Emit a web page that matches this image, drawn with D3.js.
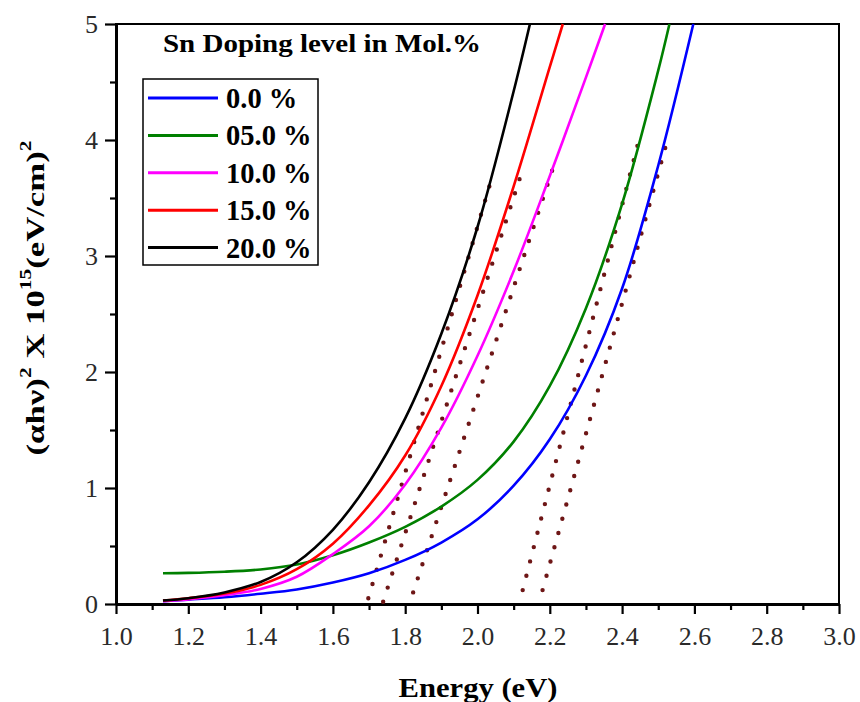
<!DOCTYPE html>
<html>
<head>
<meta charset="utf-8">
<script src="https://cdn.jsdelivr.net/npm/d3@7"></script>
<style>
body { margin: 0; background: #fff; }
text { font-family: "Liberation Serif", "Times New Roman", serif; }
</style>
</head>
<body>
<div id="chart-area"></div>
<script>
// legend labels and colours, one per doping level
const labels = ['0.0 %', '05.0 %', '10.0 %', '15.0 %', '20.0 %'];
const colors = ['#0000ff', '#008000', '#ff00ff', '#ff0000', '#000000'];

// [energy (eV), (ahv)^2 x 1e15]
const sn00 = [[1.13, 0.025], [1.2, 0.038], [1.3, 0.058], [1.4, 0.088], [1.5, 0.125], [1.6, 0.185], [1.7, 0.265],
    [1.8, 0.38], [1.9, 0.53], [2.0, 0.73], [2.1, 1.02], [2.2, 1.42], [2.3, 1.97], [2.4, 2.72], [2.5, 3.78],
    [2.597, 5.0]];
const sn05 = [[1.13, 0.265], [1.2, 0.268], [1.3, 0.278], [1.4, 0.298], [1.5, 0.34], [1.6, 0.42], [1.7, 0.53],
    [1.8, 0.665], [1.9, 0.84], [2.0, 1.07], [2.1, 1.4], [2.2, 1.88], [2.3, 2.55], [2.4, 3.45], [2.5, 4.6],
    [2.531, 5.0]];
const sn10 = [[1.13, 0.025], [1.2, 0.04], [1.3, 0.075], [1.4, 0.13], [1.5, 0.235], [1.6, 0.43], [1.7, 0.67],
    [1.8, 1.03], [1.9, 1.52], [2.0, 2.14], [2.1, 2.87], [2.2, 3.69], [2.3, 4.54], [2.353, 5.0]];
const sn15 = [[1.13, 0.03], [1.2, 0.05], [1.3, 0.09], [1.4, 0.165], [1.5, 0.3], [1.6, 0.52], [1.7, 0.85],
    [1.8, 1.28], [1.9, 1.88], [2.0, 2.66], [2.1, 3.6], [2.2, 4.63], [2.236, 5.0]];
const sn20 = [[1.13, 0.03], [1.2, 0.05], [1.3, 0.1], [1.4, 0.19], [1.5, 0.36], [1.6, 0.64], [1.7, 1.05],
    [1.8, 1.6], [1.9, 2.33], [2.0, 3.25], [2.1, 4.42], [2.145, 5.0]];

// dotted extrapolation lines (Tauc fits), start and end point
const tangents = [
    [[1.698, 0.05], [2.044, 3.72]],
    [[1.739, 0.02], [2.118, 3.68]],
    [[1.822, 0.10], [2.21, 3.77]],
    [[2.125, 0.12], [2.449, 4.03]],
    [[2.18, 0.12], [2.528, 4.03]]
];

const xMajor = [1.0, 1.2, 1.4, 1.6, 1.8, 2.0, 2.2, 2.4, 2.6, 2.8, 3.0];
const xMinor = [1.1, 1.3, 1.5, 1.7, 1.9, 2.1, 2.3, 2.5, 2.7, 2.9];
const yMajor = [0, 1, 2, 3, 4, 5];
const yMinor = [0.5, 1.5, 2.5, 3.5, 4.5];

const series = [sn00, sn05, sn10, sn15, sn20];

const svg = d3.select("#chart-area").append("svg")
    .attr("width", 860)
    .attr("height", 702);

drawChart(svg);

function drawChart(svg) {
    const margin = { top: 24, right: 21, bottom: 98, left: 116 };
    const width = 860 - margin.left - margin.right,
        height = 702 - margin.top - margin.bottom;

    const g = svg.append("g")
        .attr("transform", `translate(${margin.left}, ${margin.top})`);

    const x = d3.scaleLinear().domain([1, 3]).range([0, width]);
    const y = d3.scaleLinear().domain([0, 5]).range([height, 0]);

    // frame (top/right thinner)
    g.append("rect")
        .attr("width", width).attr("height", height)
        .attr("fill", "none").attr("stroke", "#000").attr("stroke-width", 2);

    // minor ticks
    g.append("g").attr("class", "axis")
        .attr("transform", `translate(0, ${height})`)
        .call(d3.axisBottom(x).tickValues(xMinor).tickSize(6).tickSizeOuter(0).tickFormat(""));
    g.append("g").attr("class", "axis")
        .call(d3.axisLeft(y).tickValues(yMinor).tickSize(6).tickSizeOuter(0).tickFormat(""));

    // major ticks
    const xAxis = g.append("g").attr("class", "axis")
        .attr("transform", `translate(0, ${height})`)
        .call(d3.axisBottom(x).tickValues(xMajor).tickSize(10).tickSizeOuter(0).tickPadding(13)
            .tickFormat(d3.format(".1f")));
    const yAxis = g.append("g").attr("class", "axis")
        .call(d3.axisLeft(y).tickValues(yMajor).tickSize(11).tickSizeOuter(0).tickPadding(7)
            .tickFormat(d3.format("d")));

    svg.selectAll(".axis path").attr("stroke", "#000").attr("stroke-width", 3);
    svg.selectAll(".axis line").attr("stroke", "#000").attr("stroke-width", 2.2);
    svg.selectAll(".axis text").attr("fill", "#2a2a2a").attr("font-size", 26)
        .style("font-family", '"Liberation Serif", "Times New Roman", serif');
    xAxis.selectAll("text").attr("dy", "0.71em");
    yAxis.selectAll("text").attr("dy", "0.34em");

    // dotted fit lines
    const line = d3.line().x(d => x(d[0])).y(d => y(d[1]));
    g.selectAll(".fit")
        .data(tangents)
        .join("path")
        .attr("class", "fit")
        .attr("d", line)
        .attr("fill", "none")
        .attr("stroke", "#6e1616")
        .attr("stroke-width", 4.4)
        .attr("stroke-linecap", "round")
        .attr("stroke-dasharray", "0 14.8");

    // curves
    const curve = d3.line().x(d => x(d[0])).y(d => y(d[1])).curve(d3.curveCatmullRom.alpha(0.5));
    g.selectAll(".curve")
        .data(series)
        .join("path")
        .attr("class", "curve")
        .attr("d", curve)
        .attr("fill", "none")
        .attr("stroke", (d, i) => colors[i])
        .attr("stroke-width", 2.6);

    // title inside plot
    g.append("text")
        .attr("x", 47).attr("y", 28)
        .attr("font-size", 25).attr("font-weight", "bold")
        .attr("textLength", 318).attr("lengthAdjust", "spacingAndGlyphs")
        .text("Sn Doping level in Mol.%");

    // legend
    const legend = g.append("g").attr("transform", "translate(27, 55)");
    legend.append("rect")
        .attr("width", 175).attr("height", 186)
        .attr("fill", "#fff").attr("stroke", "#000").attr("stroke-width", 1.5);
    const rows = legend.selectAll(".row")
        .data(labels)
        .join("g")
        .attr("class", "row")
        .attr("transform", (d, i) => `translate(0, ${19 + i * 37.4})`);
    rows.append("line")
        .attr("x1", 5).attr("x2", 75)
        .attr("stroke", (d, i) => colors[i]).attr("stroke-width", 3);
    rows.append("text")
        .attr("x", 83).attr("y", 10)
        .attr("font-size", 28.5).attr("font-weight", "bold")
        .text(d => d);

    // axis titles
    svg.append("text")
        .attr("x", 478).attr("y", 697)
        .attr("text-anchor", "middle")
        .attr("font-size", 28).attr("font-weight", "bold")
        .attr("textLength", 159).attr("lengthAdjust", "spacingAndGlyphs")
        .text("Energy (eV)");

    const yl = svg.append("text")
        .attr("transform", "translate(44, 298) rotate(-90)")
        .attr("text-anchor", "middle")
        .attr("font-size", 26).attr("font-weight", "bold")
        .attr("textLength", 315).attr("lengthAdjust", "spacingAndGlyphs");
    yl.append("tspan").text("(\u03b1h\u03bd)");
    yl.append("tspan").attr("font-size", 16).attr("dy", -13).text("2");
    yl.append("tspan").attr("dy", 13).text(" X 10");
    yl.append("tspan").attr("font-size", 16).attr("dy", -13).text("15");
    yl.append("tspan").attr("dy", 13).text("(eV/cm)");
    yl.append("tspan").attr("font-size", 16).attr("dy", -13).text("2");
}
</script>
</body>
</html>
